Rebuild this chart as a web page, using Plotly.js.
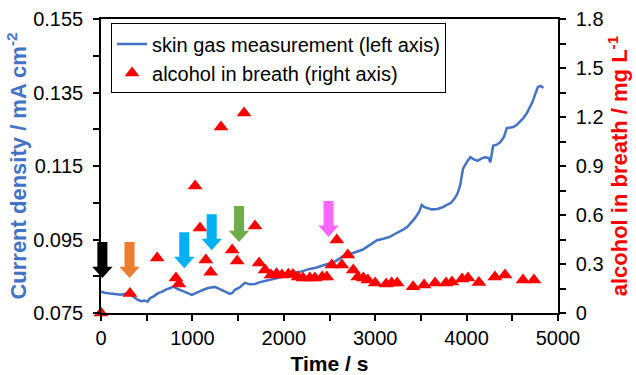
<!DOCTYPE html>
<html>
<head>
<meta charset="utf-8">
<script src="https://cdn.plot.ly/plotly-3.0.1.min.js"></script>
<style>html,body{margin:0;padding:0;background:#fff;}#chart{width:636px;height:375px;}</style>
</head>
<body>
<div id="chart"></div>
<script>
// Skin gas measurement (left axis): time (s) and current density (mA cm^-2)
const skinTime = [0, 40, 100, 150, 220, 300, 350, 400, 440, 480, 510, 535, 580, 625, 670, 720, 760, 790, 830, 865, 930, 995, 1030, 1060, 1110, 1170, 1210, 1245, 1300, 1350, 1410, 1440, 1465, 1520, 1575, 1630, 1685, 1740, 1795, 1870, 1930, 1980, 2040, 2100, 2180, 2230, 2285, 2350, 2430, 2490, 2540, 2600, 2650, 2720, 2800, 2860, 2910, 2960, 3020, 3090, 3160, 3200, 3240, 3300, 3350, 3400, 3435, 3480, 3510, 3540, 3570, 3620, 3680, 3730, 3785, 3830, 3870, 3900, 3930, 3960, 4000, 4040, 4080, 4120, 4160, 4200, 4240, 4260, 4290, 4330, 4370, 4410, 4440, 4480, 4510, 4550, 4580, 4620, 4660, 4690, 4720, 4750, 4780, 4810, 4840];
const skinCurrent = [0.0808, 0.0805, 0.0803, 0.0802, 0.0800, 0.0804, 0.0795, 0.0786, 0.0782, 0.0784, 0.0781, 0.0790, 0.0796, 0.0804, 0.0808, 0.0815, 0.0818, 0.0822, 0.0816, 0.0813, 0.0806, 0.0799, 0.0803, 0.0808, 0.0812, 0.0818, 0.0819, 0.0821, 0.0815, 0.0810, 0.0802, 0.0805, 0.0813, 0.0820, 0.0832, 0.0828, 0.0829, 0.0834, 0.0837, 0.0842, 0.0845, 0.0848, 0.0855, 0.0859, 0.0862, 0.0866, 0.0870, 0.0873, 0.0879, 0.0883, 0.0888, 0.0896, 0.0905, 0.0910, 0.0916, 0.0922, 0.0930, 0.0938, 0.0948, 0.0952, 0.0957, 0.0963, 0.0968, 0.0976, 0.0984, 0.0997, 0.1008, 0.1025, 0.1044, 0.1038, 0.1036, 0.1032, 0.1033, 0.1037, 0.1044, 0.1050, 0.1062, 0.1075, 0.1098, 0.1142, 0.1160, 0.1174, 0.1168, 0.1164, 0.1170, 0.1174, 0.1172, 0.1160, 0.1205, 0.1208, 0.1215, 0.1230, 0.1253, 0.1255, 0.1256, 0.1262, 0.1270, 0.1280, 0.1294, 0.1308, 0.1324, 0.1345, 0.1365, 0.1368, 0.1362];

// Alcohol in breath (right axis): time (s) and concentration (mg L^-1)
const breathTime = [0, 317, 615, 820, 853, 1030, 1083, 1147, 1200, 1313, 1435, 1490, 1565, 1685, 1730, 1795, 1860, 1920, 1980, 2050, 2100, 2155, 2210, 2285, 2340, 2420, 2470, 2525, 2580, 2635, 2700, 2760, 2810, 2870, 2920, 3000, 3120, 3180, 3240, 3415, 3535, 3655, 3775, 3840, 3950, 4015, 4135, 4310, 4420, 4617, 4737];
const breathAlcohol = [0.0, 0.12, 0.337, 0.214, 0.178, 0.778, 0.52, 0.325, 0.25, 1.139, 0.386, 0.318, 1.224, 0.533, 0.306, 0.263, 0.233, 0.240, 0.233, 0.238, 0.235, 0.220, 0.214, 0.214, 0.214, 0.220, 0.220, 0.294, 0.447, 0.294, 0.355, 0.263, 0.220, 0.214, 0.202, 0.184, 0.178, 0.184, 0.184, 0.160, 0.171, 0.184, 0.184, 0.190, 0.208, 0.214, 0.187, 0.220, 0.233, 0.202, 0.202];

// Event arrows: time (s), tip level on left axis, colour
const arrowTimes = [15, 312, 911, 1211, 1510, 2489];
const arrowTips = [0.0845, 0.0845, 0.0872, 0.0921, 0.0943, 0.0957];
const arrowColors = ['#000000', '#ED7D31', '#00B0F0', '#00B0F0', '#70AD47', '#FF66FF'];

const xRange = [0, 5000];

const traces = [
  {
    x: skinTime, y: skinCurrent, type: 'scatter', mode: 'lines',
    name: 'skin gas measurement (left axis)',
    line: {color: '#4472C4', width: 2.5},
    yaxis: 'y'
  },
  {
    x: breathTime, y: breathAlcohol, type: 'scatter', mode: 'markers',
    name: 'alcohol in breath (right axis)',
    marker: {symbol: 'triangle-up', size: 13, color: '#FF0000'},
    cliponaxis: false,
    yaxis: 'y2'
  }
];

// block arrow shapes: x in fraction of the x-axis span (so they are not clipped at the axis), y in left-axis units
const shaftHalf = 55, headHalf = 112, arrowLen = 0.0098, headLen = 0.0031;
function fx(t) { return (t - xRange[0]) / (xRange[1] - xRange[0]); }
const shapes = arrowTimes.map(function (t, i) {
  const tip = arrowTips[i];
  const top = tip + arrowLen, neck = tip + headLen;
  const p = 'M ' + fx(t - shaftHalf) + ',' + top +
    ' L ' + fx(t + shaftHalf) + ',' + top +
    ' L ' + fx(t + shaftHalf) + ',' + neck +
    ' L ' + fx(t + headHalf) + ',' + neck +
    ' L ' + fx(t) + ',' + tip +
    ' L ' + fx(t - headHalf) + ',' + neck +
    ' L ' + fx(t - shaftHalf) + ',' + neck + ' Z';
  return {type: 'path', xref: 'paper', yref: 'y', path: p, fillcolor: arrowColors[i], line: {width: 0}, layer: 'above'};
});

const FAM = 'Arial, "Liberation Sans", sans-serif';
const tickFont = {family: FAM, size: 20, color: '#000'};

const layout = {
  width: 636, height: 375,
  margin: {l: 101, r: 78, t: 19, b: 62},
  paper_bgcolor: '#fff', plot_bgcolor: '#fff',
  showlegend: true,
  legend: {
    x: 0.022, y: 0.985, xanchor: 'left', yanchor: 'top',
    bgcolor: '#fff', bordercolor: '#000', borderwidth: 1,
    font: {family: FAM, size: 20, color: '#000'},
    tracegroupgap: 0
  },
  xaxis: {
    range: xRange, dtick: 1000, tick0: 0,
    ticks: 'outside', ticklen: 6, tickwidth: 1.5, tickcolor: '#000',
    minor: {dtick: 500, ticks: 'outside', ticklen: 6, tickwidth: 1.5, tickcolor: '#000'},
    showline: true, linecolor: '#000', linewidth: 1.5, mirror: true,
    showgrid: false, zeroline: false,
    tickfont: tickFont,
    title: {text: '<b>Time / s</b>', font: {family: FAM, size: 21, color: '#000'}, standoff: 10}
  },
  yaxis: {
    range: [0.075, 0.155], dtick: 0.02, tick0: 0.075, tickformat: '.3f',
    ticks: 'outside', ticklen: 6, tickwidth: 1.5, tickcolor: '#000',
    minor: {dtick: 0.01, tick0: 0.075, ticks: 'outside', ticklen: 6, tickwidth: 1.5, tickcolor: '#000'},
    showline: true, linecolor: '#000', linewidth: 1.5,
    showgrid: false, zeroline: false,
    tickfont: tickFont, ticklabelstandoff: 6,
    title: {text: '<b>Current density / mA cm<sup>-2</sup></b>', font: {family: FAM, size: 22, color: '#4472C4'}, standoff: 0}
  },
  yaxis2: {
    overlaying: 'y', side: 'right',
    range: [0, 1.8], dtick: 0.3, tick0: 0,
    ticks: 'outside', ticklen: 6, tickwidth: 1.5, tickcolor: '#000',
    minor: {dtick: 0.15, ticks: 'outside', ticklen: 6, tickwidth: 1.5, tickcolor: '#000'},
    showline: true, linecolor: '#000', linewidth: 1.5,
    showgrid: false, zeroline: false,
    tickfont: tickFont, ticklabelstandoff: 6,
    title: {text: '<b>alcohol in breath / mg L<sup>-1</sup></b>', font: {family: FAM, size: 22, color: '#FF0000'}, standoff: 6}
  },
  shapes: shapes
};

Plotly.newPlot('chart', traces, layout, {displayModeBar: false, responsive: false});
</script>
</body>
</html>
